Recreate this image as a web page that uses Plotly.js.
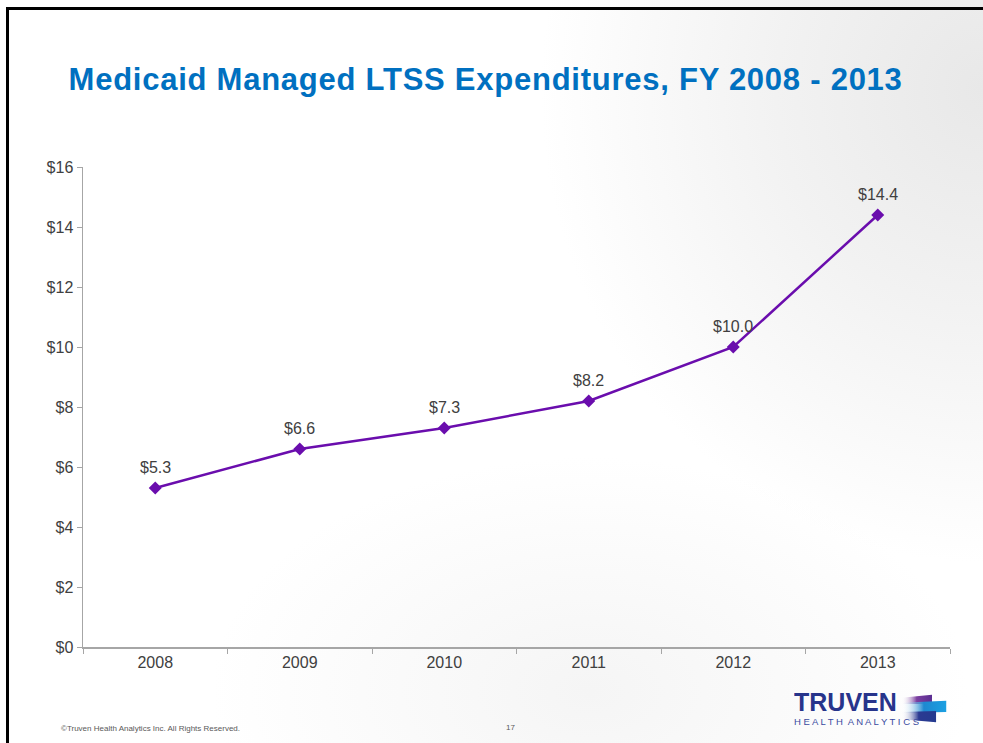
<!DOCTYPE html>
<html>
<head>
<meta charset="utf-8">
<script src="https://cdn.plot.ly/plotly-3.0.1.min.js"></script>
<style>
  html, body { margin: 0; padding: 0; width: 983px; height: 743px; overflow: hidden; background: #ffffff; }
  #bg { position: absolute; left: 0; top: 0; width: 983px; height: 743px;
        background:
          radial-gradient(ellipse 55% 45% at 60% 93%, rgba(235,235,235,0.5) 0%, rgba(255,255,255,0) 70%),
          radial-gradient(ellipse 60% 85% at 100% 12%, #e8e8e8 0%, #f2f2f2 35%, #ffffff 75%);
  }
  #frame { position: absolute; left: 6px; top: 7px; width: 990px; height: 760px;
           border-top: 3px solid #000; border-left: 3px solid #000; }
  #chart { position: absolute; left: 0; top: 0; width: 983px; height: 743px; }
  #chart .gtitle { letter-spacing: 0.75px; }
</style>
</head>
<body>
<div id="bg"></div>
<div id="frame"></div>
<div id="chart"></div>
<script>
const years = ['2008', '2009', '2010', '2011', '2012', '2013'];
const expenditures = [5.3, 6.6, 7.3, 8.2, 10.0, 14.4];
const yTickVals = [0, 2, 4, 6, 8, 10, 12, 14, 16];
const yTickText = ['$0', '$2', '$4', '$6', '$8', '$10', '$12', '$14', '$16'];
const titleText = 'Medicaid Managed LTSS Expenditures, FY 2008 - 2013';

const FONT = 'Liberation Sans, Arial, sans-serif';
const LINE = '#6a0dad';

// annotations on a category axis are placed by category index
const labelAnnotations = years.map((yr, i) => ({
  x: i, y: expenditures[i], xref: 'x', yref: 'y',
  text: '$' + expenditures[i].toFixed(1),
  showarrow: false, yshift: 21,
  font: { family: FONT, size: 16, color: '#404040' }
}));

const extraAnnotations = [
  { xref: 'paper', yref: 'paper', x: -0.0275, y: -0.17, xanchor: 'left', yanchor: 'middle',
    text: '\u00A9Truven Health Analytics Inc. All Rights Reserved.', showarrow: false,
    font: { family: FONT, size: 8, color: '#595959' } },
  { xref: 'paper', yref: 'paper', x: 0.493, y: -0.167, xanchor: 'center', yanchor: 'middle',
    text: '17', showarrow: false, font: { family: FONT, size: 8, color: '#595959' } },
  { xref: 'paper', yref: 'paper', x: 0.818, y: -0.1146, xanchor: 'left', yanchor: 'middle',
    height: 20, text: '<b>TRUVEN</b>', showarrow: false, font: { family: FONT, size: 25, color: '#27348b' } },
  { xref: 'paper', yref: 'paper', x: 0.818, y: -0.155, xanchor: 'left', yanchor: 'middle',
    height: 10, text: 'H E A L T H  A N A L Y T I C S', showarrow: false, font: { family: FONT, size: 9.5, color: '#3a4a9f' } }
];

const flagSvg = '<svg xmlns="http://www.w3.org/2000/svg" width="46" height="32" viewBox="0 0 46 32">' +
  '<defs><linearGradient id="g1" x1="0" y1="0" x2="1" y2="0"><stop offset="0" stop-color="#ffffff" stop-opacity="0"/><stop offset="0.5" stop-color="#7b3fa0"/><stop offset="1" stop-color="#5a2d91"/></linearGradient>' +
  '<linearGradient id="g2" x1="0" y1="0" x2="1" y2="0"><stop offset="0" stop-color="#ffffff" stop-opacity="0"/><stop offset="0.5" stop-color="#1e88d0"/><stop offset="1" stop-color="#1ba0e2"/></linearGradient>' +
  '<linearGradient id="g3" x1="0" y1="0" x2="1" y2="0"><stop offset="0" stop-color="#ffffff" stop-opacity="0"/><stop offset="0.5" stop-color="#2b3a92"/><stop offset="1" stop-color="#243a8f"/></linearGradient></defs>' +
  '<polygon points="0,6 30,3 30,12 0,12" fill="url(#g1)"/>' +
  '<polygon points="0,11 44,9 44,20 0,21" fill="url(#g2)"/>' +
  '<polygon points="0,20 34,19 34,30 0,27" fill="url(#g3)"/></svg>';

const trace = {
  x: years, y: expenditures, type: 'scatter', mode: 'lines+markers',
  line: { color: LINE, width: 2.5 },
  marker: { symbol: 'diamond', size: 10, color: LINE },
  hoverinfo: 'skip', cliponaxis: false
};

const layout = {
  width: 983, height: 743,
  margin: { l: 83, r: 33, t: 167, b: 96 },
  paper_bgcolor: 'rgba(0,0,0,0)', plot_bgcolor: 'rgba(0,0,0,0)',
  showlegend: false,
  title: { text: '<b>' + titleText + '</b>', xref: 'container', yref: 'container',
           x: 0.494, xanchor: 'center', y: 0.893, yanchor: 'middle',
           font: { family: FONT, size: 31, color: '#0070c0' } },
  xaxis: {
    type: 'category', categoryorder: 'array', categoryarray: years,
    range: [-0.5, years.length - 0.5],
    showgrid: false, zeroline: false,
    showline: true, linecolor: '#a6a6a6', linewidth: 1.5,
    ticks: 'outside', tickson: 'boundaries', ticklen: 5, tickcolor: '#a6a6a6',
    tickangle: 0,
    tickfont: { family: FONT, size: 16, color: '#404040' }, fixedrange: true
  },
  yaxis: {
    range: [0, 16], tickvals: yTickVals, ticktext: yTickText,
    showgrid: false, zeroline: false,
    showline: true, linecolor: '#a6a6a6', linewidth: 1.5,
    ticks: 'outside', ticklen: 5, tickcolor: '#a6a6a6',
    tickfont: { family: FONT, size: 16, color: '#404040' }, fixedrange: true
  },
  annotations: labelAnnotations.concat(extraAnnotations),
  images: [{
    source: 'data:image/svg+xml;charset=utf-8,' + encodeURIComponent(flagSvg),
    xref: 'paper', yref: 'paper', x: 0.944, y: -0.093, sizex: 0.054, sizey: 0.068,
    xanchor: 'left', yanchor: 'top', sizing: 'stretch', layer: 'above'
  }]
};

Plotly.newPlot('chart', [trace], layout, { displayModeBar: false, staticPlot: true });
</script>
</body>
</html>
